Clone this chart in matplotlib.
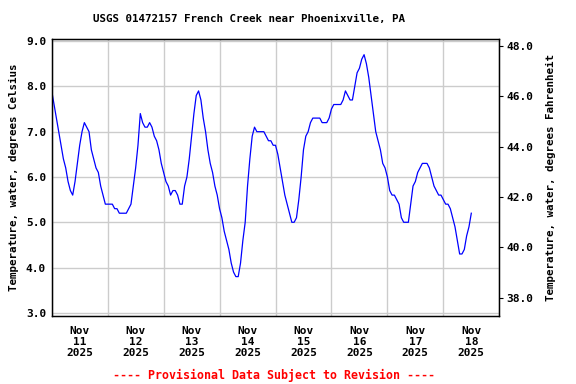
import numpy as np
import pandas as pd
import matplotlib
matplotlib.use("Agg")
import matplotlib.pyplot as plt
import matplotlib.dates as mdates
from matplotlib.ticker import FixedLocator, FormatStrFormatter

# hourly water temperature (deg C), starting Nov 11 00:00
temp_c = [
    7.9, 7.6, 7.3, 7.0, 6.7, 6.4, 6.2, 5.9, 5.7, 5.6, 5.9, 6.3,
    6.7, 7.0, 7.2, 7.1, 7.0, 6.6, 6.4, 6.2, 6.1, 5.8, 5.6, 5.4,
    5.4, 5.4, 5.4, 5.3, 5.3, 5.2, 5.2, 5.2, 5.2, 5.3, 5.4, 5.8,
    6.2, 6.7, 7.4, 7.2, 7.1, 7.1, 7.2, 7.1, 6.9, 6.8, 6.6, 6.3,
    6.1, 5.9, 5.8, 5.6, 5.7, 5.7, 5.6, 5.4, 5.4, 5.8, 6.0, 6.4,
    6.9, 7.4, 7.8, 7.9, 7.7, 7.3, 7.0, 6.6, 6.3, 6.1, 5.8, 5.6,
    5.3, 5.1, 4.8, 4.6, 4.4, 4.1, 3.9, 3.8, 3.8, 4.1, 4.6, 5.0,
    5.8, 6.4, 6.9, 7.1, 7.0, 7.0, 7.0, 7.0, 6.9, 6.8, 6.8, 6.7,
    6.7, 6.5, 6.2, 5.9, 5.6, 5.4, 5.2, 5.0, 5.0, 5.1, 5.5, 6.0,
    6.6, 6.9, 7.0, 7.2, 7.3, 7.3, 7.3, 7.3, 7.2, 7.2, 7.2, 7.3,
    7.5, 7.6, 7.6, 7.6, 7.6, 7.7, 7.9, 7.8, 7.7, 7.7, 8.0, 8.3,
    8.4, 8.6, 8.7, 8.5, 8.2, 7.8, 7.4, 7.0, 6.8, 6.6, 6.3, 6.2,
    6.0, 5.7, 5.6, 5.6, 5.5, 5.4, 5.1, 5.0, 5.0, 5.0, 5.4, 5.8,
    5.9, 6.1, 6.2, 6.3, 6.3, 6.3, 6.2, 6.0, 5.8, 5.7, 5.6, 5.6,
    5.5, 5.4, 5.4, 5.3, 5.1, 4.9, 4.6, 4.3, 4.3, 4.4, 4.7, 4.9,
    5.2,
]
times = pd.date_range("2025-11-11 00:00", periods=len(temp_c), freq="h")

c_ticks = [3.0, 4.0, 5.0, 6.0, 7.0, 8.0, 9.0]
f_ticks = [38.0, 40.0, 42.0, 44.0, 46.0, 48.0]
days = pd.date_range("2025-11-11", "2025-11-19", freq="D")

title = "USGS 01472157 French Creek near Phoenixville, PA"
left_label = "Temperature, water, degrees Celsius"
right_label = "Temperature, water, degrees Fahrenheit"
footer = "---- Provisional Data Subject to Revision ----"

mono = "DejaVu Sans Mono"
plt.rcParams["font.family"] = mono
plt.rcParams["font.weight"] = "bold"

fig = plt.figure(figsize=(5.76, 3.84), dpi=100)
ax = fig.add_axes([0.0898, 0.177, 0.777, 0.7207])

ylo, yhi = 2.93, 9.04
ax.plot(times, temp_c, color="#0000ff", lw=0.9)
ax.set_ylim(ylo, yhi)
ax.set_xlim(days[0], days[-1])

ax.yaxis.set_major_locator(FixedLocator(c_ticks))
ax.yaxis.set_major_formatter(FormatStrFormatter("%.1f"))
ax.xaxis.set_minor_locator(FixedLocator(mdates.date2num(days)))
noons = days[:-1] + pd.Timedelta(hours=12)
ax.xaxis.set_major_locator(FixedLocator(mdates.date2num(noons)))
ax.set_xticklabels([d.strftime("%b\n%d\n%Y") for d in noons])
ax.grid(True, which="minor", axis="x", color="#cccccc", lw=1)
ax.grid(True, which="major", axis="y", color="#cccccc", lw=1)
ax.set_axisbelow(True)
ax.tick_params(axis="both", which="both", length=0, labelsize=8, pad=4)
ax.tick_params(axis="x", pad=7)
for lbl in ax.get_xticklabels():
    lbl.set_linespacing(1.15)
for s in ax.spines.values():
    s.set_linewidth(1.0)

ax2 = ax.twinx()
ax2.set_ylim(ylo * 1.8 + 32, yhi * 1.8 + 32)
ax2.yaxis.set_major_locator(FixedLocator(f_ticks))
ax2.yaxis.set_major_formatter(FormatStrFormatter("%.1f"))
ax2.tick_params(axis="y", length=3, width=0.8, labelsize=8, pad=2)

ax.set_ylabel(left_label, fontsize=7.8, fontweight="bold", labelpad=5)
ax2.set_ylabel(right_label, fontsize=7.8, fontweight="bold", labelpad=9)

fig.text(249 / 576, 1 - 19 / 384, title, ha="center", va="center",
         fontsize=7.8, fontweight="bold")
fig.text(274 / 576, 1 - 375 / 384, footer, ha="center", va="center",
         fontsize=8.4, fontweight="bold", color="#ff0000")

fig.savefig("out.png", dpi=100)
